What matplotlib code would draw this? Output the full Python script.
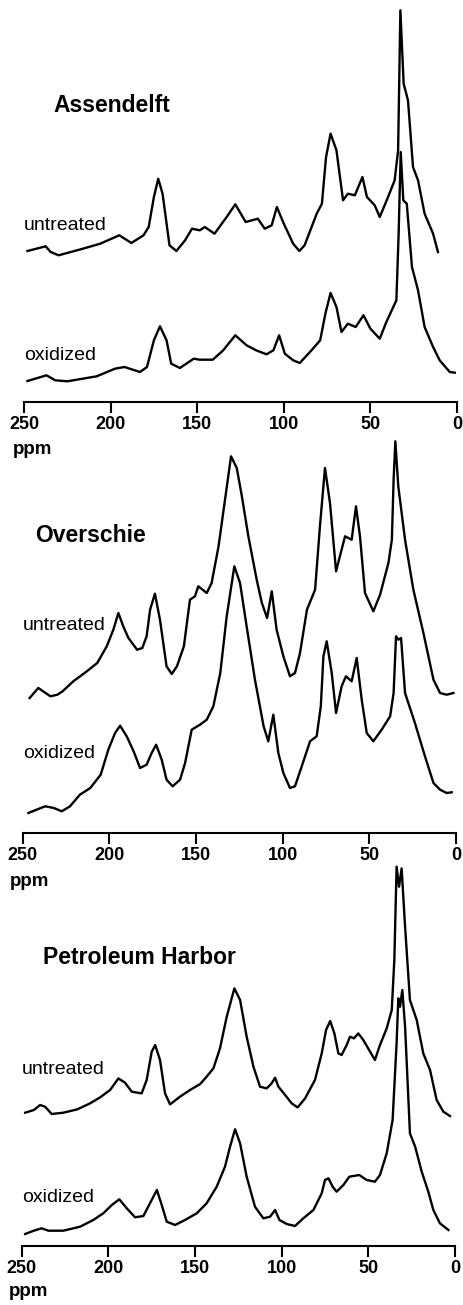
import matplotlib
matplotlib.use("Agg")
import matplotlib.pyplot as plt

# --- Assendelft ---------------------------------------------------------
assendelft_untreated_ppm = [248, 237.5, 234.6, 230, 216, 206, 195, 188, 181, 178, 175, 172.5, 170,
                            166, 162, 157, 153, 148.5, 145.6, 140, 133, 128, 122, 115, 111, 107,
                            104, 100, 94.6, 91, 88, 81, 78, 75.6, 73, 69.6, 65.8, 63, 59, 54.6,
                            52, 47.5, 44.6, 39.8, 36, 34, 32.7, 30.8, 28.3, 25.4, 22.5, 18.7,
                            13.8, 11]
assendelft_untreated = [0, 4.7, -1, -4.3, 2.3, 7.3, 15.7, 8, 15.7, 24, 54, 72.3, 57.3,
                        5.7, 0, 10.7, 22.3, 20.7, 24, 17.3, 34, 46.7, 29, 32.3, 22.3, 25.7,
                        44, 27.3, 7.3, 0, 5.7, 37.3, 47.3, 94, 117.3, 100.7, 50.7, 57.3, 55.7, 74,
                        54, 45.7, 34, 54, 70.7, 100.7, 240.7, 167.3, 150.7, 84, 70.7, 37.3,
                        17.3, -1]
assendelft_oxidized_ppm = [248, 237, 232, 225, 208, 197.5, 192, 183, 179, 175, 171.5, 167.7, 165,
                           160, 152, 148.5, 141, 135, 128, 121.5, 116, 110, 106, 102.7, 99.4,
                           94.6, 90.8, 84, 79, 76, 73, 69.6, 66.7, 63, 58.5, 54, 50, 44.6, 40.8,
                           35, 33.7, 32.5, 31, 29, 26, 22.5, 18.7, 13.8, 10, 4.2, 1.3]
assendelft_oxidized = [0, 5.7, 0.7, -0.3, 4.7, 12.3, 14, 9, 14, 40.7, 54.7, 40.7, 17.3,
                       13, 22.3, 21.3, 21.3, 30.7, 45.7, 35.7, 30.7, 26.7, 30.7, 45.7, 27.3,
                       20.7, 18, 30.7, 40.7, 67.3, 88, 74, 49, 57.3, 54, 65.7, 52.3, 42.3, 59,
                       80.7, 147.3, 229, 180.7, 177.3, 114, 90.7, 54, 34, 20.7, 9, 8.3]

# --- Overschie ----------------------------------------------------------
overschie_untreated_ppm = [246, 241, 234, 230, 227, 220.8, 213, 207, 201.5, 197.7, 194.8, 192, 189,
                           184, 181, 178.5, 176.5, 173.7, 170.8, 167, 164, 161, 157, 153.5, 150.6,
                           148.7, 143.8, 141, 137, 133, 129.8, 126.5, 123.7, 119.8, 115, 112, 109,
                           106.3, 103.5, 99.6, 95.8, 92.9, 90, 86, 81.3, 78.5, 75.6, 72.7, 69.2,
                           67, 64, 60.2, 57.7, 55.4, 52.5, 47.7, 43.8, 39, 37, 36, 35, 33.3, 29.4,
                           24.6, 18.8, 13, 9.2, 5.4, 1.5]
overschie_untreated = [0, 10, 1.7, 3.3, 6.7, 16.7, 26.7, 35, 51.7, 68.3, 85, 71.7, 60,
                       48.3, 50, 61.7, 88.3, 104.3, 78.3, 31.7, 24, 31.7, 51.7, 98.3, 101.7,
                       111.7, 105, 115, 151.7, 201.7, 241.7, 230, 203.3, 161.7, 118.3, 95, 80,
                       106.7, 68.3, 41.7, 21.7, 25, 45, 88.3, 108.3, 171.7, 230, 195, 126.7,
                       141.7, 161.7, 158.3, 191.7, 161.7, 105, 86.7, 103.3, 135, 158.3, 218.3,
                       256.7, 211.7, 158.3, 108.3, 65, 18.3, 5, 3.3, 5]
overschie_oxidized_ppm = [246.7, 242, 237, 232, 227.5, 222.7, 217, 211, 205, 200.6, 196.7, 193.8,
                          190, 186, 182.3, 178.5, 175.6, 173, 169.8, 167, 163.5, 159.2, 156.3,
                          152.5, 147.7, 143.8, 140, 136, 132.3, 127.9, 124.6, 120.8, 116, 111,
                          108.3, 105.4, 102.5, 99.6, 95.8, 92.9, 89, 84.2, 80.4, 78, 76.5, 74.6,
                          71.7, 69.2, 66, 63.5, 60.2, 57.3, 54.4, 51.5, 47.7, 42.9, 38, 36, 34.6,
                          33.3, 31.7, 29.4, 23.7, 17.9, 13, 9.2, 5.4, 2.5]
overschie_oxidized = [0, 3.3, 6.7, 5, 1.7, 6.7, 18.3, 25, 38.3, 63.3, 80, 87.3,
                      76.7, 61.7, 45, 48.3, 60, 68.3, 53.3, 33.3, 26.7, 33.3, 50,
                      83.3, 88.3, 93.3, 106.7, 140, 196.7, 246.7, 230, 186.7, 133.3, 86.7,
                      71.7, 98.3, 60, 40, 25, 26.7, 46.7, 71.7, 76.7, 106.7, 156.7, 171.7,
                      140, 100, 126.7, 136.7, 131.7, 155, 113.3, 80, 71.7, 83.3, 96.7, 120, 176.7,
                      173.3, 175, 120, 90, 56.7, 30, 23.3, 20, 20.7]

# --- Petroleum Harbor ---------------------------------------------------
harbor_untreated_ppm = [248, 243, 239.4, 236.5, 232.7, 226, 218, 210.6, 204.8, 199, 194.2, 190.4,
                        186.5, 180.8, 177.9, 175, 173, 170.2, 167.3, 164.4, 158.7, 152.9, 147,
                        143.3, 139.4, 135.6, 131.7, 127.3, 124, 120.2, 116.3, 112.5, 108.7, 105.8,
                        103.8, 101.9, 98, 94.2, 90.8, 86.5, 80.8, 76.9, 74.4, 72, 69.6, 67.3,
                        65.4, 62.5, 60.6, 58.3, 55.8, 52.9, 49, 46.2, 43.3, 39.4, 36.5, 35, 33.7,
                        32.3, 30.8, 28.8, 26, 22.1, 18.3, 14.4, 10.6, 6.7, 2.9]
harbor_untreated = [0, 2.7, 7.7, 6, -1.3, 0, 3.3, 9.3, 15.3, 22.7, 34.3, 30,
                    21, 19.3, 32.7, 61, 67.7, 52.7, 19.3, 8.3, 16, 22.7, 28.7,
                    36, 44.3, 64.3, 96, 124.3, 112.7, 76, 46, 26, 24.3, 29.3,
                    35, 26, 17.7, 9.3, 5.3, 14.3, 32.7, 59.3, 82.7, 91.7, 79.3, 59.3,
                    57.7, 67.7, 76, 74.3, 79.3, 72.7, 61, 52.7, 67.7, 84.3, 102.7, 152.7, 246,
                    226, 244.3, 186, 112.7, 92.7, 59.3, 42.7, 12.7, 1, -3.3]
harbor_oxidized_ppm = [248, 243, 238.5, 234.6, 226, 216.3, 208.7, 202.9, 198, 193.7, 189.4, 184.6,
                       179.8, 176, 172, 169.2, 166.3, 161.5, 155.8, 149, 143.3, 137.5, 132.7,
                       129.8, 126.9, 124, 120.2, 115.4, 110.6, 106.7, 103.8, 101.3, 97.1, 92.3,
                       87.5, 81.7, 76.9, 75, 73, 70.6, 68.3, 64.4, 61, 55.2, 51, 46.2, 43.3,
                       39.4, 36, 33.7, 32.7, 31.7, 30.4, 28.8, 26, 23, 19.2, 15.4, 12.5, 8.7, 3.8]
harbor_oxidized = [0, 3.3, 5.7, 3.3, 3.3, 7.3, 14, 20.7, 29, 34.7, 25.7, 16.7,
                   18, 30.7, 44, 29, 12.3, 9, 14, 20.7, 30.7, 47.3, 67.3,
                   87.3, 104.7, 90.7, 57.3, 27.3, 15.7, 17.3, 24, 14, 10, 8,
                   15.7, 24, 40.7, 54, 55.7, 47.3, 42.3, 49, 57.3, 59, 54, 52.3, 59,
                   80.7, 114, 190.7, 235.7, 227.3, 244, 207.3, 100.7, 87.3, 62.3, 42.3, 24, 10.7, 4]

site_names = ["Assendelft", "Overschie", "Petroleum Harbor"]
treatment_labels = ["untreated", "oxidized"]
ppm_ticks = [250, 200, 150, 100, 50, 0]
axis_label = "ppm"

spectra = [
    ((assendelft_untreated_ppm, assendelft_untreated), (assendelft_oxidized_ppm, assendelft_oxidized)),
    ((overschie_untreated_ppm, overschie_untreated), (overschie_oxidized_ppm, overschie_oxidized)),
    ((harbor_untreated_ppm, harbor_untreated), (harbor_oxidized_ppm, harbor_oxidized)),
]

# layout in pixels: left, right, axis line, top; trace offsets; label positions
W, H = 464, 1305
panels = [
    dict(left=24.0, right=457.0, base=402, top=0, offsets=(151, 21),
         title_xy=(233, 297), label_y=(177, 47), ppm_x=256.4, ppm_y=-47),
    dict(left=22.7, right=456.0, base=833, top=436, offsets=(135, 20),
         title_xy=(243, 298), label_y=(208, 80), ppm_x=257.5, ppm_y=-48),
    dict(left=21.7, right=455.0, base=1246, top=862, offsets=(133.3, 12),
         title_xy=(237.7, 289), label_y=(177, 48), ppm_x=257.3, ppm_y=-46),
]

plt.rcParams["font.family"] = ["Liberation Sans", "DejaVu Sans"]

fig = plt.figure(figsize=(W / 100, H / 100), dpi=100)
fig.patch.set_facecolor("white")

for name, (untr, oxid), p in zip(site_names, spectra, panels):
    height = p["base"] - p["top"]
    ax = fig.add_axes([p["left"] / W, 1 - p["base"] / H,
                       (p["right"] - p["left"]) / W, height / H])
    ax.set_xlim(250, 0)
    ax.set_ylim(0, height)

    for (x, y), off in zip((untr, oxid), p["offsets"]):
        ax.plot(x, [v + off for v in y], color="black", lw=1.7,
                solid_joinstyle="round", clip_on=False)

    ax.text(p["title_xy"][0], p["title_xy"][1], name, fontsize=16.5,
            fontweight="bold", ha="left", va="center")
    for lab, ly in zip(treatment_labels, p["label_y"]):
        ax.text(250, ly, lab, fontsize=14, ha="left", va="center")

    for side in ("left", "right", "top"):
        ax.spines[side].set_visible(False)
    ax.spines["bottom"].set_linewidth(1.5)
    ax.set_yticks([])
    ax.set_xticks(ppm_ticks)
    ax.set_xticklabels([str(t) for t in ppm_ticks], fontsize=13, fontweight="bold")
    ax.tick_params(axis="x", direction="out", length=8, width=1.5, pad=2)
    ax.patch.set_alpha(0)
    ax.text(p["ppm_x"], p["ppm_y"], axis_label, fontsize=13.5, fontweight="bold",
            ha="left", va="center", clip_on=False)

fig.savefig("out.png", dpi=100, facecolor="white")
